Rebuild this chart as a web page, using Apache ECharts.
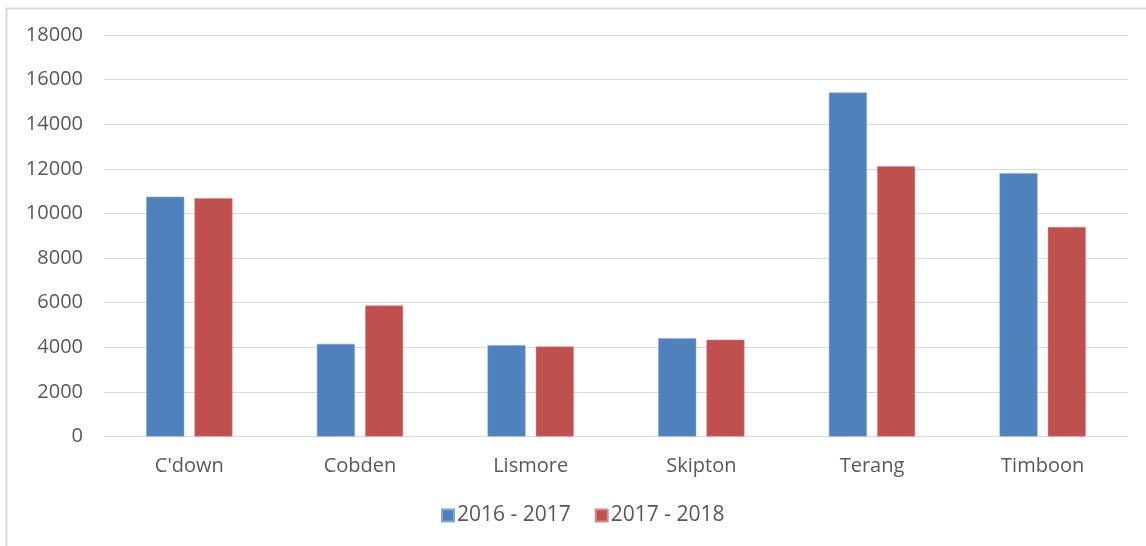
<!DOCTYPE html>
<html>
<head>
<meta charset="utf-8">
<script src="https://cdn.jsdelivr.net/npm/echarts@6/dist/echarts.min.js"></script>
<style>
  html, body { margin: 0; padding: 0; background: #fff; }
  #chart { width: 1146px; height: 546px; }
</style>
</head>
<body>
<div id="chart"></div>
<script>
const categories = ["C'down", 'Cobden', 'Lismore', 'Skipton', 'Terang', 'Timboon']
const season1 = [10750, 4150, 4090, 4400, 15420, 11800]  // 2016 - 2017
const season2 = [10680, 5870, 4030, 4340, 12120, 9390]   // 2017 - 2018
const seriesNames = ['2016 - 2017', '2017 - 2018']

const chart = echarts.init(document.getElementById('chart'), null, { renderer: 'canvas' })

const font = "'Open Sans', 'Noto Sans', sans-serif"

chart.setOption({
  animation: false,
  backgroundColor: '#ffffff',
  textStyle: { fontFamily: font },
  graphic: [
    {
      type: 'rect',
      shape: { x: 6.5, y: 8.5, width: 1160, height: 560 },
      style: { fill: 'none', stroke: '#d9d9d9', lineWidth: 2 },
      silent: true
    }
  ],
  grid: { left: 104, right: 18, top: 35, bottom: 109.5 },
  legend: {
    data: seriesNames,
    left: 441,
    top: 505,
    padding: 0,
    itemWidth: 12,
    itemHeight: 12,
    itemGap: 24,
    icon: 'rect',
    textStyle: { color: '#595959', fontSize: 21, fontFamily: font, padding: [0, 0, 0, -2] }
  },
  xAxis: {
    type: 'category',
    data: categories,
    axisTick: { show: false },
    axisLine: { lineStyle: { color: '#d9d9d9', width: 1 } },
    axisLabel: { color: '#595959', fontSize: 20, margin: 20, fontFamily: font }
  },
  yAxis: {
    type: 'value',
    min: 0,
    max: 18000,
    interval: 2000,
    axisLine: { show: false },
    axisTick: { show: false },
    splitLine: { lineStyle: { color: '#d9d9d9', width: 1 } },
    axisLabel: { color: '#595959', fontSize: 20, margin: 21, fontFamily: font, formatter: v => String(v) }
  },
  series: [
    {
      name: seriesNames[0],
      type: 'bar',
      data: season1,
      barWidth: 38,
      barGap: '27%',
      itemStyle: { color: '#4f81bd', borderColor: '#86a8d4', borderWidth: 0.5 }
    },
    {
      name: seriesNames[1],
      type: 'bar',
      data: season2,
      barWidth: 38,
      barGap: '27%',
      itemStyle: { color: '#c0504d', borderColor: '#d88a88', borderWidth: 0.5 }
    }
  ]
})
</script>
</body>
</html>
